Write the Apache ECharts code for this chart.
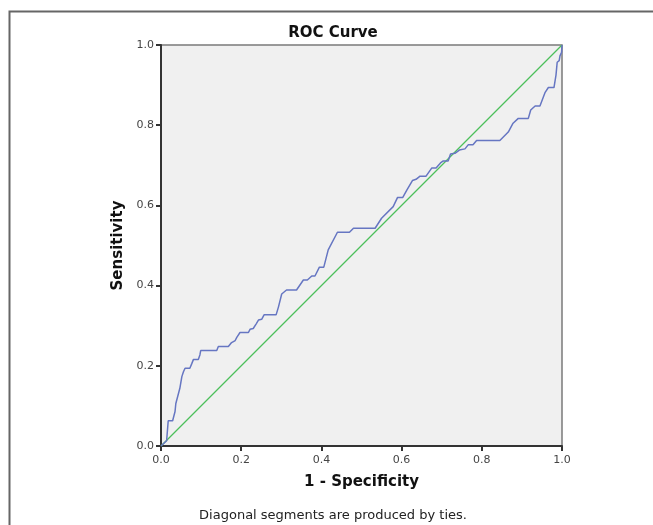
<!DOCTYPE html>
<html>
<head>
<meta charset="utf-8">
<script src="https://cdn.jsdelivr.net/npm/echarts@6/dist/echarts.min.js"></script>
<style>
  html, body { margin: 0; padding: 0; background: #fff; }
  #main { width: 653px; height: 525px; }
</style>
</head>
<body>
<div id="main"></div>
<script>
// 1 - Specificity (x) and Sensitivity (y) of the ROC curve
const fpr = [0, 0.014, 0.018, 0.029, 0.035, 0.037, 0.047, 0.052, 0.056, 0.060,
  0.072, 0.077, 0.081, 0.093, 0.097, 0.099, 0.139, 0.143, 0.168, 0.176,
  0.185, 0.189, 0.197, 0.218, 0.222, 0.230, 0.237, 0.243, 0.251, 0.257,
  0.287, 0.293, 0.301, 0.313, 0.338, 0.355, 0.365, 0.376, 0.384, 0.395,
  0.406, 0.417, 0.440, 0.470, 0.480, 0.534, 0.550, 0.579, 0.590, 0.603,
  0.613, 0.627, 0.636, 0.646, 0.661, 0.675, 0.686, 0.697, 0.704, 0.716,
  0.722, 0.733, 0.744, 0.758, 0.766, 0.778, 0.787, 0.845, 0.866, 0.878,
  0.891, 0.916, 0.922, 0.933, 0.945, 0.958, 0.966, 0.980, 0.985, 0.988,
  0.993, 0.995, 0.999, 1.0];
const tpr = [0, 0.013, 0.063, 0.063, 0.086, 0.106, 0.144, 0.173, 0.185, 0.194,
  0.194, 0.206, 0.216, 0.216, 0.227, 0.238, 0.238, 0.248, 0.248, 0.258,
  0.263, 0.271, 0.283, 0.283, 0.291, 0.293, 0.304, 0.314, 0.316, 0.327,
  0.327, 0.347, 0.379, 0.389, 0.389, 0.414, 0.414, 0.424, 0.424, 0.446,
  0.446, 0.489, 0.533, 0.533, 0.543, 0.543, 0.568, 0.597, 0.620, 0.620,
  0.638, 0.662, 0.665, 0.673, 0.673, 0.693, 0.693, 0.706, 0.711, 0.711,
  0.728, 0.730, 0.738, 0.741, 0.751, 0.751, 0.762, 0.762, 0.783, 0.805,
  0.817, 0.817, 0.838, 0.848, 0.848, 0.882, 0.894, 0.894, 0.925, 0.957,
  0.961, 0.973, 0.982, 1.0];
// reference line
const diagX = [0, 1];
const diagY = [0, 1];

const chart = echarts.init(document.getElementById('main'));
const font = 'DejaVu Sans';

const option = {
  animation: false,
  textStyle: { fontFamily: font },
  grid: {
    left: 161, top: 45, width: 401, height: 401,
    show: true, backgroundColor: '#f0f0f0',
    borderColor: '#7a7a7a', borderWidth: 1.5
  },
  xAxis: {
    type: 'value', min: 0, max: 1, interval: 0.2,
    name: '1 - Specificity', nameLocation: 'middle', nameGap: 29,
    nameTextStyle: { fontSize: 15, fontWeight: 'bold', color: '#111', fontFamily: font },
    axisLine: { show: true, lineStyle: { color: '#333', width: 2 } },
    axisTick: { show: true, inside: false, length: 5, lineStyle: { color: '#333', width: 2 } },
    axisLabel: { fontSize: 11, color: '#444', margin: 9, formatter: v => v.toFixed(1) },
    splitLine: { show: false }
  },
  yAxis: {
    type: 'value', min: 0, max: 1, interval: 0.2,
    name: 'Sensitivity', nameLocation: 'middle', nameGap: 34,
    nameTextStyle: { fontSize: 15, fontWeight: 'bold', color: '#111', fontFamily: font },
    axisLine: { show: true, lineStyle: { color: '#333', width: 2 } },
    axisTick: { show: true, inside: false, length: 5, lineStyle: { color: '#333', width: 2 } },
    axisLabel: { fontSize: 11, color: '#444', margin: 7, formatter: v => v.toFixed(1) },
    splitLine: { show: false }
  },
  series: [
    {
      type: 'line',
      data: diagX.map((x, i) => [x, diagY[i]]),
      symbol: 'none',
      lineStyle: { color: '#4dbf5b', width: 1.3 },
      z: 2
    },
    {
      type: 'line',
      data: fpr.map((x, i) => [x, tpr[i]]),
      symbol: 'none',
      lineStyle: { color: '#6676c2', width: 1.5 },
      z: 3
    }
  ],
  graphic: [
    {
      type: 'rect', left: 7, top: 9, silent: true,
      shape: { width: 700, height: 600 },
      style: { fill: 'none', stroke: '#666', lineWidth: 2 }
    },
    {
      type: 'text', x: 333, y: 33, silent: true,
      style: { text: 'ROC Curve', fontSize: 15, fontWeight: 'bold', fill: '#111',
        fontFamily: font, align: 'center', verticalAlign: 'middle' }
    },
    {
      type: 'text', x: 333, y: 516, silent: true,
      style: { text: 'Diagonal segments are produced by ties.', fontSize: 13, fill: '#222',
        fontFamily: font, align: 'center', verticalAlign: 'middle' }
    }
  ]
};

chart.setOption(option);
</script>
</body>
</html>
